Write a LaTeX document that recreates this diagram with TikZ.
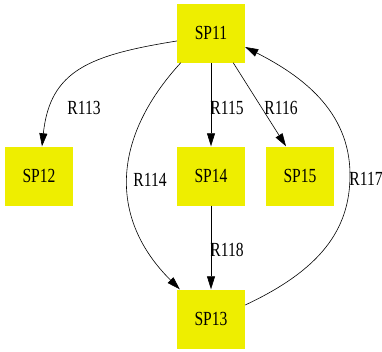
\documentclass[tikz,border=0pt]{standalone}
\usepackage{fontspec}
\setmainfont{Liberation Serif}
\usetikzlibrary{arrows.meta,calc}
\definecolor{spyellow}{RGB}{238,238,0}
% narrow text, as the labels are set condensed
\newcommand{\narrowtxt}[1]{\scalebox{0.78}[1]{#1}}
\tikzset{
  spbox/.style={fill=spyellow, draw=none, minimum width=68pt, minimum height=59pt,
    inner sep=0pt, font=\fontsize{20}{20}\selectfont},
  rlabel/.style={inner sep=0pt, font=\fontsize{20}{20}\selectfont},
  edge/.style={draw=black, line width=0.6pt, -{Triangle[length=13pt,width=8pt]}},
}
\begin{document}
\begin{tikzpicture}[x=1pt,y=-1pt]
  \useasboundingbox (0,0) rectangle (382,351);
  % species
  \node[spbox] (sp11) at (211,33)  {\narrowtxt{SP11}};
  \node[spbox] (sp12) at (39,176)  {\narrowtxt{SP12}};
  \node[spbox] (sp14) at (211,176) {\narrowtxt{SP14}};
  \node[spbox] (sp15) at (300,176) {\narrowtxt{SP15}};
  \node[spbox] (sp13) at (211,319) {\narrowtxt{SP13}};
  % reactions
  \draw[edge] ($(sp11.west)+(0,8)$) .. controls (90,55) and (50,70) .. ($(sp12.north)+(3,0)$);
  \draw[edge] ($(sp11.south west)+(4,0)$) .. controls (110,140) and (110,220) .. ($(sp13.north west)+(3,0)$);
  \draw[edge] (sp11) -- (sp14);
  \draw[edge] ($(sp11.south east)+(-12,0)$) -- ($(sp15.north)+(-14,0)$);
  \draw[edge] ($(sp13.east)+(0,-14)$) .. controls (320,270) and (350,230) .. (350,175)
      .. controls (350,110) and (300,75) .. ($(sp11.east)+(0,14)$);
  \draw[edge] (sp14) -- (sp13);
  % reaction labels
  \node[rlabel] (r113) at (84,108)  {\narrowtxt{R113}};
  \node[rlabel] (r114) at (150,180) {\narrowtxt{R114}};
  \node[rlabel] (r115) at (227,108) {\narrowtxt{R115}};
  \node[rlabel] (r116) at (281,108) {\narrowtxt{R116}};
  \node[rlabel] (r117) at (366,179) {\narrowtxt{R117}};
  \node[rlabel] (r118) at (227,250) {\narrowtxt{R118}};
\end{tikzpicture}
\end{document}
